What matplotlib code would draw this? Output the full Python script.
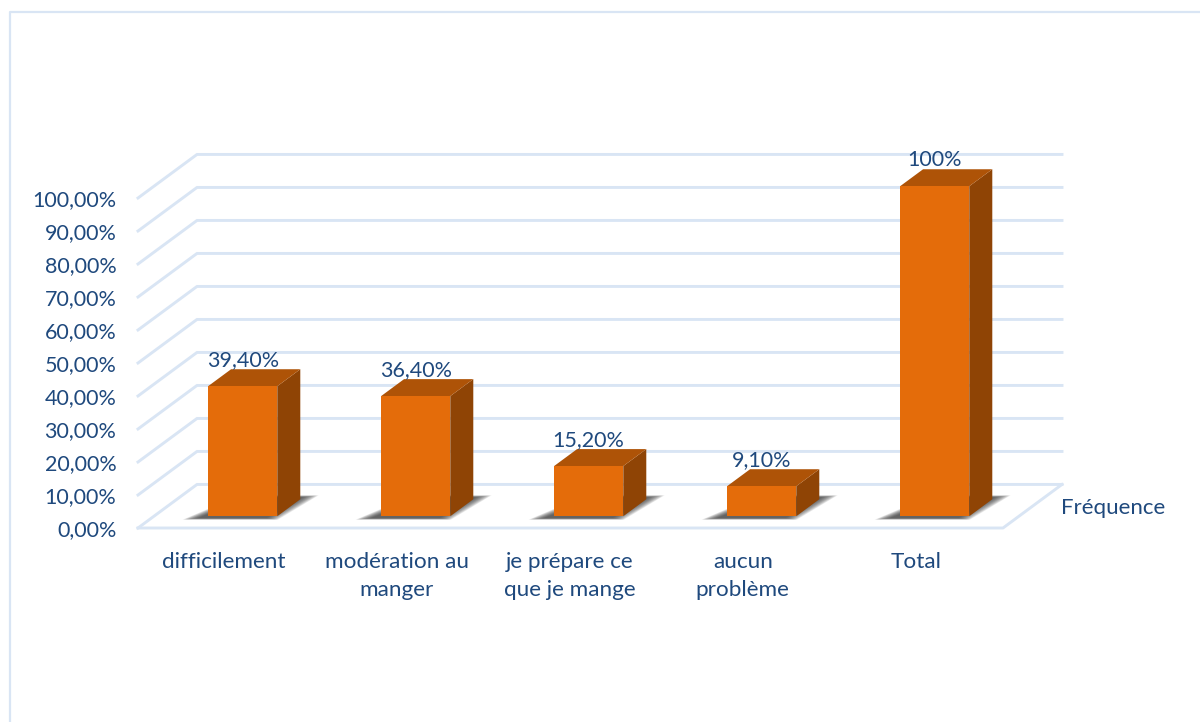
import matplotlib.pyplot as plt
from matplotlib.lines import Line2D
from matplotlib.patches import Polygon

categories = ["difficilement", "modération au\nmanger", "je prépare ce\nque je mange", "aucun\nproblème", "Total"]
values = [39.4, 36.4, 15.2, 9.1, 100]
value_labels = ["39,40%", "36,40%", "15,20%", "9,10%", "100%"]
y_ticks = [0, 10, 20, 30, 40, 50, 60, 70, 80, 90, 100]
y_tick_labels = ["0,00%", "10,00%", "20,00%", "30,00%", "40,00%", "50,00%",
                 "60,00%", "70,00%", "80,00%", "90,00%", "100,00%"]
series_name = "Fréquence"

plt.rcParams['font.family'] = ['Lato', 'DejaVu Sans']

text_col = "#1f497d"
grid_col = "#d9e5f4"
front_col = "#e46c0a"
top_col = "#ae5307"
side_col = "#8f4405"

W, H = 1200, 722
fig = plt.figure(figsize=(W / 100, H / 100), dpi=100)
ax = fig.add_axes([138 / W, (H - 528) / H, (1003 - 138) / W, 330 / H])
ax.set_xlim(-0.5, 4.5)
ax.set_ylim(0, 100)

# fake 3d: how far one full depth unit moves a point, in data units
depth_x = 59 / 173
depth_y = 13.2


def proj(x, y, d):
    return (x + depth_x * d, y + depth_y * d)


def face(points, **kw):
    ax.add_patch(Polygon([proj(*p) for p in points], closed=True, clip_on=False, **kw))


# outer frame, only top and left show
fig.add_artist(Line2D([10 / W, 10 / W, 1], [0, 1 - 12 / H, 1 - 12 / H], color=grid_col, lw=1.6))

# grid walls
for t in y_ticks:
    pts = [proj(-0.5, t, 0), proj(-0.5, t, 1), proj(4.5, t, 1)]
    ax.plot([p[0] for p in pts], [p[1] for p in pts], color=grid_col, lw=2.1, clip_on=False, zorder=1)
floor = [proj(-0.5, 0, 0), proj(4.5, 0, 0), proj(4.5, 0, 1)]
ax.plot([p[0] for p in floor], [p[1] for p in floor], color=grid_col, lw=2.1, clip_on=False, zorder=1)

d0, d1 = 0.27, 0.66
half = 0.2
shift = 0.013

for i, v in enumerate(values):
    x0 = i + shift - half
    x1 = i + shift + half

    # soft shadow on the floor, stacked see-through layers
    for k in range(12):
        g = k * 0.007
        face([(x0 - 0.12 + g, 0, 0.19 + g * 0.5),
              (x1 + 0.03 - g, 0, 0.19 + g * 0.5),
              (x1 + 0.075 - g, 0, 0.75 - g * 0.6),
              (x0 + 0.02 + g, 0, 0.75 - g * 0.6)],
             facecolor="#333333", edgecolor="none", alpha=0.11, zorder=2)

    face([(x0, 0, d0), (x1, 0, d0), (x1, v, d0), (x0, v, d0)], facecolor=front_col, edgecolor="none", zorder=4)
    face([(x1, 0, d0), (x1, 0, d1), (x1, v, d1), (x1, v, d0)], facecolor=side_col, edgecolor="none", zorder=3)
    face([(x0, v, d0), (x1, v, d0), (x1, v, d1), (x0, v, d1)], facecolor=top_col, edgecolor="none", zorder=3)

    lx, ly = proj(i + shift, v, d0)
    ax.text(lx, ly + 7.8, value_labels[i], ha="center", va="center", color=text_col, fontsize=15.5,
            clip_on=False, zorder=5)

ax.text(4.835, 6.2, series_name, ha="left", va="center", color=text_col, fontsize=16, clip_on=False)

ax.set_yticks(y_ticks, y_tick_labels)
ax.set_xticks([i - 0.004 for i in range(len(categories))], categories)
ax.tick_params(axis="y", length=0, pad=15.5, labelsize=15.5, labelcolor=text_col)
ax.tick_params(axis="x", length=0, pad=17.5, labelsize=16.2, labelcolor=text_col)
for lab in ax.get_xticklabels():
    lab.set_linespacing(1.48)
for s in ax.spines.values():
    s.set_visible(False)
ax.patch.set_alpha(0)

fig.savefig("out.png", dpi=100)
